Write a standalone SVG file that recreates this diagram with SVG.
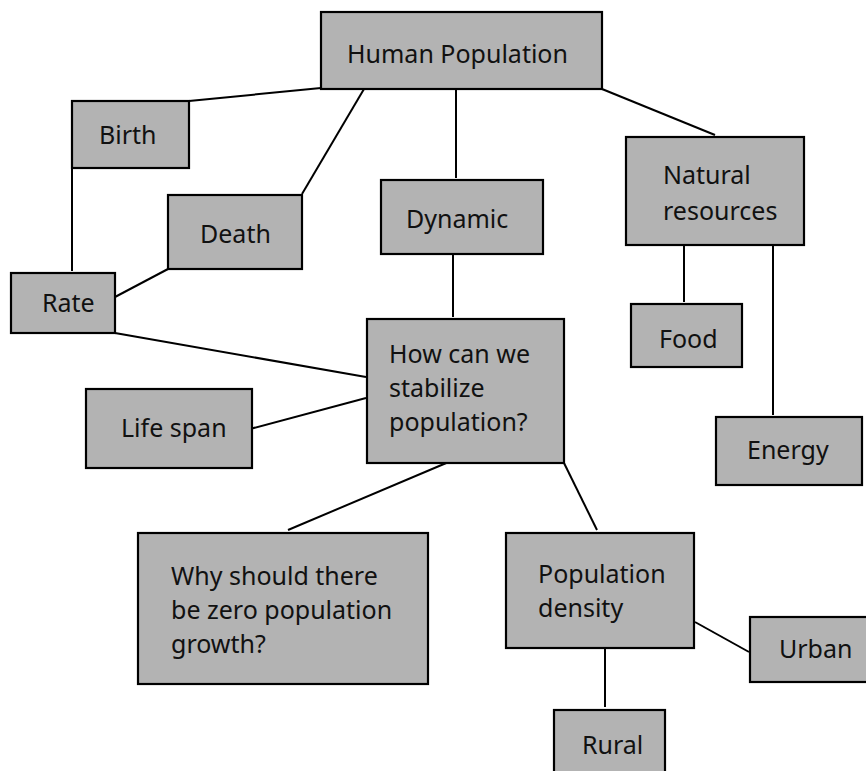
<svg xmlns="http://www.w3.org/2000/svg" width="866" height="771" viewBox="0 0 866 771">
<style>
.box{fill:#b3b3b3;stroke:#000;stroke-width:2.2}
.lbl{font-family:"Noto Sans","Open Sans",sans-serif;font-size:25px;fill:#111}
.edge{stroke:#000;stroke-width:2;fill:none}
</style>
<rect width="866" height="771" fill="#fff"/>
<g id="connectors">
<line class="edge" x1="321" y1="88" x2="189" y2="101"/>
<line class="edge" x1="72" y1="168" x2="72" y2="271"/>
<line class="edge" x1="364" y1="89" x2="302" y2="194"/>
<line class="edge" x1="168" y1="269" x2="115" y2="297"/>
<line class="edge" x1="115" y1="333" x2="366" y2="377"/>
<line class="edge" x1="250" y1="429" x2="366" y2="398"/>
<line class="edge" x1="451" y1="461" x2="288" y2="530"/>
<line class="edge" x1="564" y1="463" x2="597" y2="530"/>
<line class="edge" x1="456" y1="89" x2="456" y2="178"/>
<line class="edge" x1="453" y1="254" x2="453" y2="317"/>
<line class="edge" x1="602" y1="89" x2="715" y2="135"/>
<line class="edge" x1="684" y1="245" x2="684" y2="302"/>
<line class="edge" x1="773" y1="245" x2="773" y2="415"/>
<line class="edge" x1="695" y1="622" x2="749" y2="652"/>
<line class="edge" x1="605" y1="648" x2="605" y2="707"/>
</g>
<g id="human-population"><rect class="box" x="321" y="12" width="281" height="77"/><text class="lbl" x="347" y="63">Human Population</text></g>
<g id="birth"><rect class="box" x="72" y="101" width="117" height="67"/><text class="lbl" x="99" y="144">Birth</text></g>
<g id="death"><rect class="box" x="168" y="195" width="134" height="74"/><text class="lbl" x="200" y="243">Death</text></g>
<g id="rate"><rect class="box" x="11" y="273" width="104" height="60"/><text class="lbl" x="42" y="312">Rate</text></g>
<g id="dynamic"><rect class="box" x="381" y="180" width="162" height="74"/><text class="lbl" x="406" y="228">Dynamic</text></g>
<g id="natural-resources"><rect class="box" x="626" y="137" width="178" height="108"/><text class="lbl" x="663" y="184">Natural</text><text class="lbl" x="663" y="220">resources</text></g>
<g id="food"><rect class="box" x="631" y="304" width="111" height="63"/><text class="lbl" x="659" y="348">Food</text></g>
<g id="energy"><rect class="box" x="716" y="417" width="146" height="68"/><text class="lbl" x="747" y="459">Energy</text></g>
<g id="stabilize"><rect class="box" x="367" y="319" width="197" height="144"/><text class="lbl" x="389" y="363">How can we</text><text class="lbl" x="389" y="397">stabilize</text><text class="lbl" x="389" y="431">population?</text></g>
<g id="life-span"><rect class="box" x="86" y="389" width="166" height="79"/><text class="lbl" x="121" y="437">Life span</text></g>
<g id="zero-growth"><rect class="box" x="138" y="533" width="290" height="151"/><text class="lbl" x="171" y="585">Why should there</text><text class="lbl" x="171" y="619">be zero population</text><text class="lbl" x="171" y="653">growth?</text></g>
<g id="population-density"><rect class="box" x="506" y="533" width="188" height="115"/><text class="lbl" x="538" y="583">Population</text><text class="lbl" x="538" y="617">density</text></g>
<g id="urban"><rect class="box" x="750" y="617" width="122" height="65"/><text class="lbl" x="779" y="658">Urban</text></g>
<g id="rural"><rect class="box" x="554" y="710" width="111" height="70"/><text class="lbl" x="582" y="754">Rural</text></g>
</svg>
